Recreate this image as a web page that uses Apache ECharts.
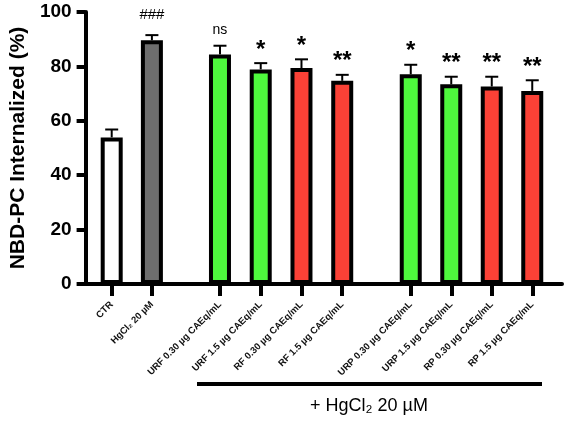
<!DOCTYPE html>
<html>
<head>
<meta charset="utf-8">
<script src="https://cdn.jsdelivr.net/npm/echarts@6/dist/echarts.min.js"></script>
<style>html,body{margin:0;padding:0;background:#fff}#c{width:567px;height:425px}</style>
</head>
<body>
<div id="c"></div>
<script>
const categories = ['CTR','HgCl₂ 20 µM','URF 0.30 µg CAEq/mL','URF 1.5 µg CAEq/mL','RF 0.30 µg CAEq/mL','RF 1.5 µg CAEq/mL','URP 0.30 µg CAEq/mL','URP 1.5 µg CAEq/mL','RP 0.30 µg CAEq/mL','RP 1.5 µg CAEq/mL'];
const means = [53.9, 89.6, 84.4, 78.9, 79.4, 74.7, 77.1, 73.4, 72.6, 71.0];
const errors = [2.9, 1.9, 3.2, 2.3, 3.2, 2.2, 3.5, 2.8, 3.6, 3.9];
const significance = ['', '###', 'ns', '*', '*', '**', '*', '**', '**', '**'];
const groupOf = [0, 0, 1, 1, 1, 1, 2, 2, 2, 2];
const yTicks = [0, 20, 40, 60, 80, 100];

// styles
const barColors = ['#ffffff', '#6e6e6e', '#4ef83d', '#4ef83d', '#fb4136', '#fb4136', '#4ef83d', '#4ef83d', '#fb4136', '#fb4136'];
const FONT = 'Liberation Sans, Arial, Helvetica, sans-serif';
const groupGrids = [
  {left: 91.6, width: 80.4},
  {left: 199.6, width: 163},
  {left: 390.5, width: 162}
];
const TOP = 12, BOTTOM = 141;

const chart = echarts.init(document.getElementById('c'), null, {renderer: 'canvas'});

const grids = [{left: 80, right: 5, top: TOP, bottom: BOTTOM}];
const xAxes = [{
  type: 'category', gridIndex: 0, data: [''],
  axisLine: {lineStyle: {color: '#000', width: 4}},
  axisTick: {show: false}, axisLabel: {show: false}
}];
const yAxes = [{
  type: 'value', gridIndex: 0, min: yTicks[0], max: yTicks[yTicks.length - 1], interval: yTicks[1] - yTicks[0],
  name: 'NBD-PC Internalized (%)', nameLocation: 'middle', nameGap: 52,
  nameTextStyle: {fontFamily: FONT, fontWeight: 'bold', fontSize: 21, color: '#000'},
  axisLine: {show: true, lineStyle: {color: '#000', width: 4}},
  axisTick: {show: true, length: 9, lineStyle: {color: '#000', width: 4}},
  axisLabel: {fontFamily: FONT, fontWeight: 'bold', fontSize: 19, color: '#000', margin: 14},
  splitLine: {show: false}
}];
const series = [];

groupGrids.forEach((g, gi) => {
  const idx = categories.map((c, i) => i).filter(i => groupOf[i] === gi);
  const k = gi + 1;
  grids.push({left: g.left, width: g.width, top: TOP, bottom: BOTTOM});
  xAxes.push({
    type: 'category', gridIndex: k, data: idx.map(i => categories[i]),
    axisLine: {show: false},
    axisTick: {show: true, alignWithLabel: true, length: 12, inside: false, lineStyle: {color: '#000', width: 4}},
    axisLabel: {rotate: 45, interval: 0, margin: 19, fontFamily: FONT, fontWeight: 'bold', fontSize: 9.5, color: '#111'}
  });
  yAxes.push({
    type: 'value', gridIndex: k, min: yTicks[0], max: yTicks[yTicks.length - 1], show: false, splitLine: {show: false}
  });
  series.push({
    type: 'bar', xAxisIndex: k, yAxisIndex: k, barWidth: 22, z: 2,
    data: idx.map(i => ({value: means[i], itemStyle: {color: barColors[i], borderColor: '#000', borderWidth: 4}})),
    animation: false
  });
  series.push({
    type: 'custom', xAxisIndex: k, yAxisIndex: k, z: 1,
    data: idx.map(i => [categories[i], means[i], errors[i], i]),
    renderItem: function (params, api) {
      const xi = api.value(0);
      const m = api.value(1), e = api.value(2), gIdx = api.value(3);
      const base = api.coord([xi, m]);
      const top = api.coord([xi, m + e]);
      const cw = 13;
      const sig = significance[gIdx];
      const children = [
        {type: 'line', shape: {x1: base[0], y1: base[1], x2: top[0], y2: top[1]}, style: {stroke: '#000', lineWidth: 2}},
        {type: 'line', shape: {x1: top[0] - cw / 2, y1: top[1], x2: top[0] + cw / 2, y2: top[1]}, style: {stroke: '#000', lineWidth: 2}}
      ];
      if (sig) {
        const isStar = sig.indexOf('*') >= 0;
        const isHash = sig.indexOf('#') >= 0;
        children.push({
          type: 'text',
          style: {
            text: sig, x: top[0], y: top[1] - (isStar ? 1 : (isHash ? 13 : 9)),
            align: 'center', verticalAlign: 'bottom',
            font: (isStar ? 'bold 24px ' : (isHash ? 'normal 15px ' : 'normal 14px ')) + FONT,
            fill: '#000'
          }
        });
      }
      return {type: 'group', children: children};
    },
    animation: false
  });
});

chart.setOption({
  animation: false,
  grid: grids,
  xAxis: xAxes,
  yAxis: yAxes,
  series: series,
  graphic: [
    {type: 'line', shape: {x1: 197, y1: 384, x2: 542, y2: 384}, style: {stroke: '#000', lineWidth: 4}},
    {type: 'text', style: {
      text: '+ HgCl₂ 20 µM', x: 369, y: 406, align: 'center', verticalAlign: 'middle',
      font: 'normal 18px ' + FONT, fill: '#000'
    }}
  ]
});
</script>
</body>
</html>
